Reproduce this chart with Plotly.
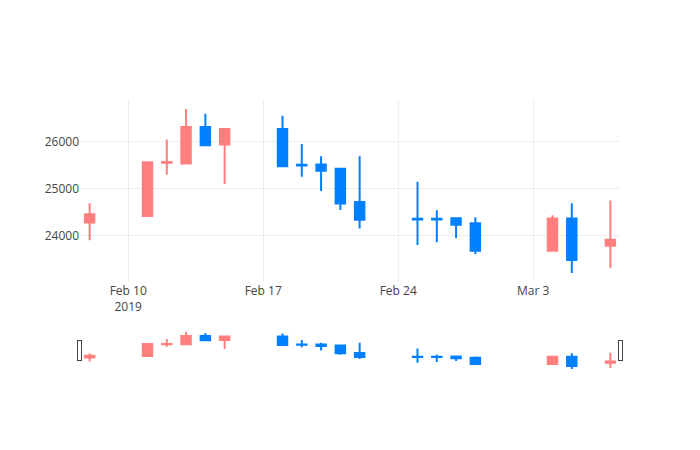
import plotly.graph_objects as go

dates = ["2019-02-08", "2019-02-11", "2019-02-12", "2019-02-13", "2019-02-14", "2019-02-15",
         "2019-02-18", "2019-02-19", "2019-02-20", "2019-02-21", "2019-02-22",
         "2019-02-25", "2019-02-26", "2019-02-27", "2019-02-28",
         "2019-03-04", "2019-03-05", "2019-03-07"]
open_ = [24276, 24417, 25555, 25538, 26319, 25943,
         26277, 25510, 25517, 25425, 24715,
         24355, 24355, 24368, 24261,
         23672, 24361, 23778]
high = [24687, 25570, 26049, 26702, 26602, 26280,
        26560, 25957, 25694, 25438, 25694,
        25149, 24538, 24389, 24389,
        24432, 24687, 24745]
low = [23893, 24400, 25298, 25530, 25915, 25098,
       25481, 25255, 24949, 24545, 24149,
       23793, 23851, 23942, 23595,
       23672, 23197, 23297]
close = [24453, 25566, 25570, 26319, 25928, 26277,
         25481, 25495, 25383, 24681, 24332,
         24340, 24340, 24225, 23672,
         24361, 23474, 23906]

inc_color = "#ff7f7f"
dec_color = "#007fff"

fig = go.Figure(go.Candlestick(
    x=dates, open=open_, high=high, low=low, close=close,
    increasing=dict(line=dict(color=inc_color), fillcolor=inc_color),
    decreasing=dict(line=dict(color=dec_color), fillcolor=dec_color),
))
fig.update_layout(
    template="none",
    width=700, height=450,
    showlegend=False,
    font=dict(color="#444"),
    xaxis=dict(rangeslider=dict(visible=True), gridcolor="#eee"),
    yaxis=dict(tickformat="d", gridcolor="#eee"),
)
fig.write_html("out.html")
